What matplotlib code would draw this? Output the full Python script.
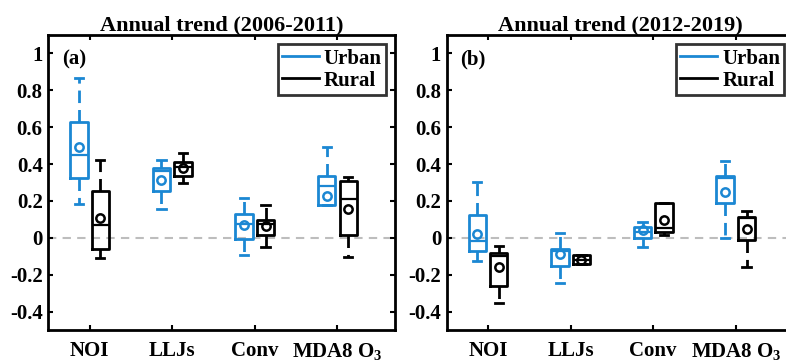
import matplotlib
matplotlib.use("Agg")
import matplotlib.pyplot as plt
from matplotlib.lines import Line2D

plt.rcParams['font.family'] = ['Liberation Serif', 'DejaVu Serif']
plt.rcParams['font.weight'] = 'bold'
plt.rcParams['mathtext.fontset'] = 'custom'
plt.rcParams['mathtext.rm'] = 'Liberation Serif:bold'
plt.rcParams['mathtext.bf'] = 'Liberation Serif:bold'
plt.rcParams['mathtext.it'] = 'Liberation Serif:bold'
plt.rcParams['mathtext.default'] = 'rm'

categories = ['NOI', 'LLJs', 'Conv', 'MDA8 O$_3$']
titles = ['Annual trend (2006-2011)', 'Annual trend (2012-2019)']
panel_tags = ['(a)', '(b)']

# Box statistics per category: [whislo, q1, med, q3, whishi, mean]
urban_0611 = [
    [0.186, 0.322, 0.448, 0.628, 0.867, 0.490],
    [0.158, 0.253, 0.360, 0.377, 0.420, 0.313],
    [-0.091, -0.005, 0.076, 0.131, 0.216, 0.067],
    [0.176, 0.176, 0.282, 0.337, 0.495, 0.226],
]
rural_0611 = [
    [-0.109, -0.060, 0.067, 0.255, 0.420, 0.107],
    [0.300, 0.337, 0.385, 0.410, 0.459, 0.380],
    [-0.048, 0.016, 0.076, 0.094, 0.176, 0.062],
    [-0.106, 0.016, 0.209, 0.309, 0.331, 0.158],
]
urban_1219 = [
    [-0.124, -0.073, -0.015, 0.126, 0.304, 0.018],
    [-0.243, -0.155, -0.070, -0.060, 0.025, -0.087],
    [-0.048, 0.000, 0.030, 0.058, 0.085, 0.040],
    [0.000, 0.191, 0.322, 0.337, 0.419, 0.250],
]
rural_1219 = [
    [-0.355, -0.264, -0.097, -0.082, -0.042, -0.160],
    [-0.142, -0.142, -0.120, -0.091, -0.091, -0.120],
    [0.013, 0.031, 0.052, 0.189, 0.189, 0.098],
    [-0.160, -0.010, 0.105, 0.113, 0.145, 0.049],
]

panels = [(urban_0611, rural_0611), (urban_1219, rural_1219)]

blue = '#1B87D3'
black = '#000000'
lw = 2.0


def to_stats(rows):
    out = []
    for lo, q1, med, q3, hi, mean in rows:
        out.append(dict(whislo=lo, q1=q1, med=med, q3=q3, whishi=hi,
                        mean=mean, fliers=[]))
    return out


def draw(ax, rows, positions, color):
    ax.bxp(to_stats(rows), positions=positions, widths=0.21,
           showmeans=True, showfliers=False, capwidths=0.1,
           manage_ticks=False,
           boxprops=dict(color=color, linewidth=lw),
           medianprops=dict(color=color, linewidth=lw * 0.8),
           whiskerprops=dict(color=color, linewidth=lw,
                             linestyle=(0, (4.5, 2.5))),
           capprops=dict(color=color, linewidth=lw),
           meanprops=dict(marker='o', markerfacecolor='none',
                          markeredgecolor=color, markersize=6,
                          markeredgewidth=1.8))


fig = plt.figure(figsize=(7.86, 3.61), dpi=100)
W, H = 786, 361
axes_px = [(48.3, 395.3), (446.7, 793.7)]
top_px, bot_px = 35, 330

x = list(range(1, len(categories) + 1))
for k, (left, right) in enumerate(axes_px):
    ax = fig.add_axes([left / W, 1 - bot_px / H, (right - left) / W,
                       (bot_px - top_px) / H])
    urban, rural = panels[k]
    ax.axhline(0, color='#BDBDBD', linewidth=1.5, linestyle=(0, (4, 3)),
               zorder=0)
    draw(ax, urban, [p - 0.13 for p in x], blue)
    draw(ax, rural, [p + 0.13 for p in x], black)

    ax.set_xlim(0.5, 4.7)
    ax.set_ylim(-0.5, 1.1)
    ax.set_xticks(x)
    ax.set_xticklabels(categories)
    ax.set_yticks([-0.4, -0.2, 0, 0.2, 0.4, 0.6, 0.8, 1])
    ax.set_yticklabels(['-0.4', '-0.2', '0', '0.2', '0.4', '0.6', '0.8', '1'])
    ax.tick_params(direction='in', length=3.5, width=1.5, top=True,
                   right=True, labelsize=15)
    ax.tick_params(axis='x', pad=8)
    ax.tick_params(axis='y', pad=4)
    for s in ax.spines.values():
        s.set_linewidth(2)
    ax.set_title(titles[k], fontsize=16, fontweight='bold', pad=3)
    ax.text(0.04, 0.95, panel_tags[k], transform=ax.transAxes,
            fontsize=15, fontweight='bold', va='top', ha='left')

    handles = [Line2D([], [], color=blue, linewidth=lw),
               Line2D([], [], color=black, linewidth=lw)]
    leg = ax.legend(handles, ['Urban', 'Rural'], loc='upper right',
                    fontsize=15, frameon=True, fancybox=False,
                    handlelength=1.75, handletextpad=0.25, borderpad=0.2,
                    labelspacing=0.1, borderaxespad=0.45)
    leg.get_frame().set_edgecolor('black')
    leg.get_frame().set_linewidth(2)

fig.savefig('out.png', dpi=100)
